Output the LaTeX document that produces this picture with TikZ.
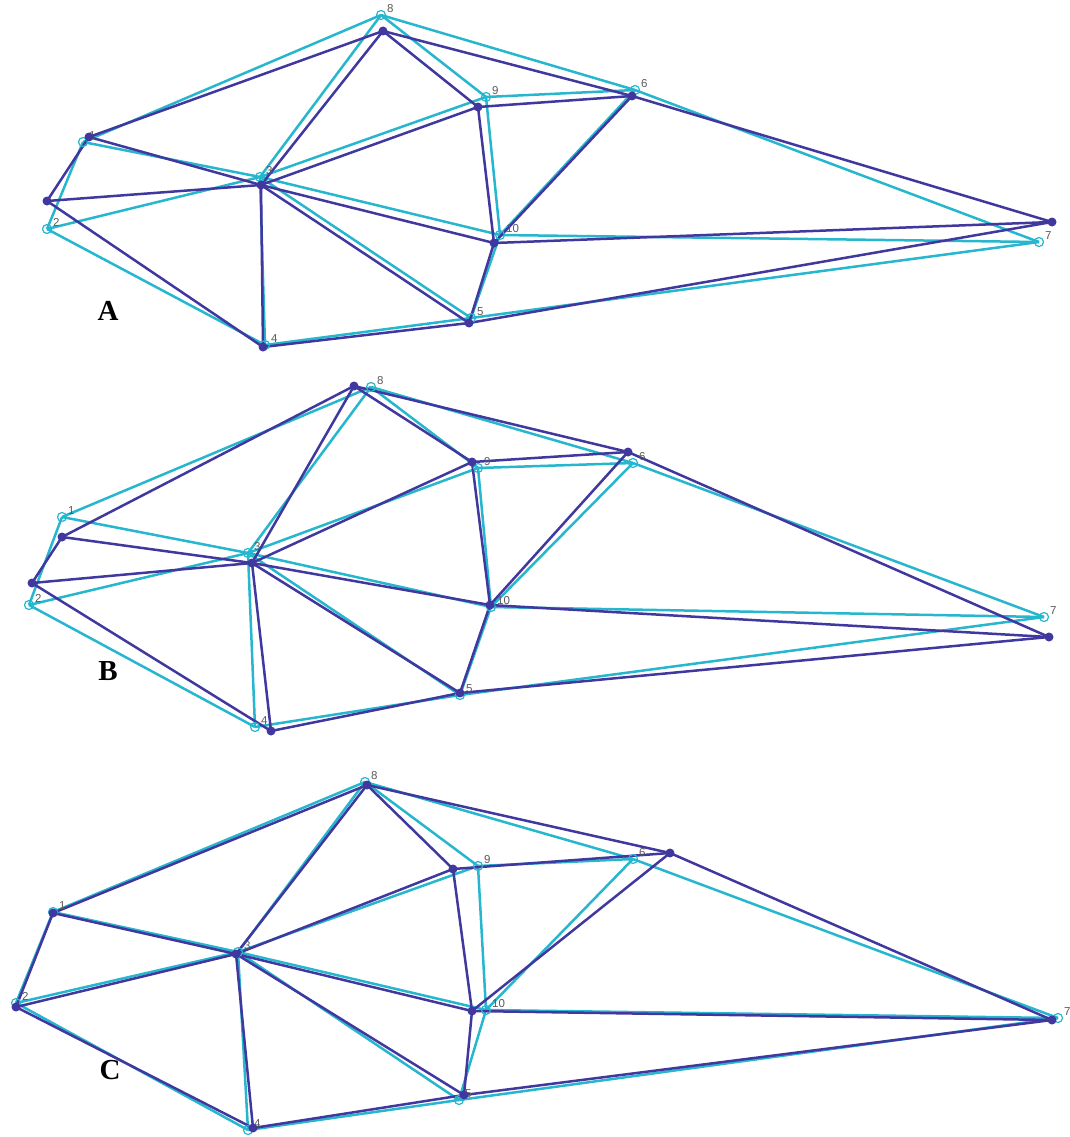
\documentclass[tikz,border=0pt]{standalone}
\usepackage{fontspec}
\setmainfont{Liberation Serif}
\setsansfont{Liberation Sans}
\usepackage{tikz}
\usetikzlibrary{backgrounds}
\definecolor{meshdark}{RGB}{64,56,158}
\definecolor{meshcyan}{RGB}{38,182,206}
\definecolor{numgray}{RGB}{90,90,90}
\tikzset{
  darkwire/.style  = {meshdark, line width=2.5pt},
  cyanwire/.style  = {meshcyan, line width=2.5pt},
  darkpt/.style    = {circle, fill=meshdark, inner sep=0pt, minimum size=9pt},
  cyanpt/.style    = {circle, draw=meshcyan, line width=1.2pt, inner sep=0pt, minimum size=9pt},
  numlabel/.style  = {font=\sffamily\fontsize{11.5}{11.5}\selectfont, text=numgray,
                      inner sep=1pt, label distance=0pt},
  panellabel/.style= {font=\bfseries\fontsize{29}{29}\selectfont},
}
\def\meshedges{1/2,1/3,1/8,2/3,2/4,3/4,3/5,3/8,3/9,3/10,4/5,5/7,5/10,6/7,6/8,6/9,6/10,7/10,8/9,9/10}

\begin{document}
\begin{tikzpicture}[x=1pt,y=-1pt]
  \useasboundingbox (0,0) rectangle (1070,1137);

  % ---------------- panel A ----------------------------------------------
  \foreach \i/\x/\y in {1/83/142,2/47/229,3/260/177,4/265/345,5/471/318,
                        6/635/90,7/1039/242,8/381/15,9/486/97,10/500/235}
    \node[cyanpt,label={[numlabel]15:\i}] (Ac\i) at (\x,\y) {};
  \foreach \i/\x/\y in {1/89/137,2/47/201,3/261/185,4/263/347,5/469/323,
                        6/632/96,7/1052/222,8/383/31,9/478/107,10/494/243}
    \node[darkpt] (Ad\i) at (\x,\y) {};
  \begin{scope}[on background layer]
    \foreach \p/\q in \meshedges \draw[cyanwire] (Ac\p.center) -- (Ac\q.center);
    \foreach \p/\q in \meshedges \draw[darkwire] (Ad\p.center) -- (Ad\q.center);
  \end{scope}
  \node[panellabel] (labA) at (108,311) {A};

  % ---------------- panel B ----------------------------------------------
  \foreach \i/\x/\y in {1/62/517,2/29/605,3/248/553,4/255/727,5/460/695,
                        6/633/463,7/1044/617,8/371/387,9/478/468,10/491/607}
    \node[cyanpt,label={[numlabel]15:\i}] (Bc\i) at (\x,\y) {};
  \foreach \i/\x/\y in {1/62/537,2/32/583,3/252/563,4/271/731,5/460/693,
                        6/628/452,7/1049/637,8/354/386,9/472/462,10/490/605}
    \node[darkpt] (Bd\i) at (\x,\y) {};
  \begin{scope}[on background layer]
    \foreach \p/\q in \meshedges \draw[cyanwire] (Bc\p.center) -- (Bc\q.center);
    \foreach \p/\q in \meshedges \draw[darkwire] (Bd\p.center) -- (Bd\q.center);
  \end{scope}
  \node[panellabel] (labB) at (108,671) {B};

  % ---------------- panel C ----------------------------------------------
  \foreach \i/\x/\y in {1/53/912,2/16/1003,3/238/952,4/248/1130,5/459/1100,
                        6/633/859,7/1058/1018,8/365/782,9/478/866,10/486/1010}
    \node[cyanpt,label={[numlabel]15:\i}] (Cc\i) at (\x,\y) {};
  \foreach \i/\x/\y in {1/53/913,2/16/1007,3/236/954,4/253/1128,5/464/1095,
                        6/670/853,7/1052/1020,8/367/785,9/453/869,10/472/1011}
    \node[darkpt] (Cd\i) at (\x,\y) {};
  \begin{scope}[on background layer]
    \foreach \p/\q in \meshedges \draw[cyanwire] (Cc\p.center) -- (Cc\q.center);
    \foreach \p/\q in \meshedges \draw[darkwire] (Cd\p.center) -- (Cd\q.center);
  \end{scope}
  \node[panellabel] (labC) at (110,1070) {C};
\end{tikzpicture}
\end{document}
